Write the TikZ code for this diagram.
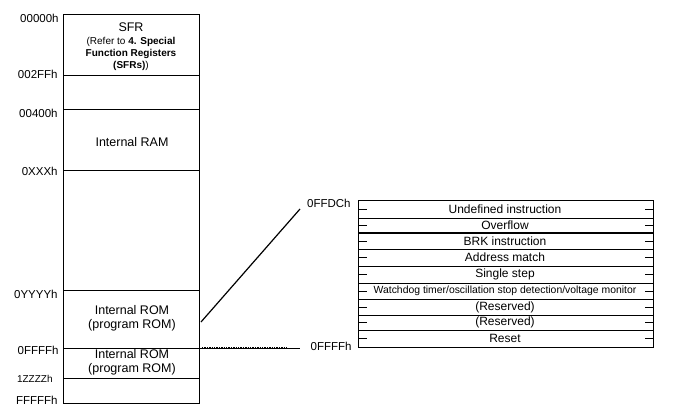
\documentclass[tikz,border=0pt]{standalone}
\usepackage{fontspec}
\setmainfont{Liberation Sans}
\usetikzlibrary{positioning, calc}

\begin{document}
\begin{tikzpicture}[x=1pt, y=-1pt,
    line width=0.8pt,
    addr/.style={anchor=east, inner sep=0pt, font=\fontsize{11.5}{13}\selectfont},
    area/.style={align=center, inner sep=0pt, font=\fontsize{12.5}{14}\selectfont},
    vec/.style={inner sep=0pt, font=\fontsize{12}{13}\selectfont},
    tabtick/.style={line width=0.6pt},
]
    \useasboundingbox (0,0) rectangle (693,415);

    % memory map
    \coordinate (mapNW) at (63,14);
    \coordinate (mapSE) at (199,403);
    \draw (mapNW) rectangle (mapSE);
    \foreach \y in {75,109,170,290,378}
        \draw (63,\y) -- (199,\y);

    \node[addr] (a0) at (59,18) {00000h};
    \node[addr] (a1) at (58,74) {002FFh};
    \node[addr] (a2) at (58,113) {00400h};
    \node[addr] (a3) at (58,171) {0XXXh};
    \node[addr] (a4) at (58,294) {0YYYYh};
    \node[addr] (a5) at (59,350) {0FFFFh};
    \node[addr, font=\fontsize{10}{12}\selectfont] (a6) at (53,379) {1ZZZZh};
    \node[addr] (a7) at (58,400) {FFFFFh};

    \node[area] (sfr) at (131,27) {SFR};
    \node[align=center, inner sep=0pt, font=\fontsize{10}{12}\selectfont] (sfrref) at (131,54)
        {(Refer to \textbf{4. Special}\\ \textbf{Function Registers}\\ \textbf{(SFRs)})};
    \node[area] (ram) at (132,142) {Internal RAM};
    \node[area] (rom1) at (132,318) {Internal ROM\\(program ROM)};
    \node[area] (rom2) at (132,362) {Internal ROM\\(program ROM)};

    % vector table
    \coordinate (vecNW) at (358,200);
    \coordinate (vecSE) at (653,347);
    \draw (vecNW) rectangle (vecSE);
    \foreach \y in {218,249,266,283,299,315,330}
        \draw (358,\y) -- (653,\y);
    \draw[line width=1.8pt] (358,233) -- (653,233);
    \foreach \y in {209,225.5,241,257.5,274.5,291,307,322.5,338.5} {
        \draw[tabtick] (358,\y) -- (367,\y);
        \draw[tabtick] (645,\y) -- (653,\y);
    }

    \node[vec] (v0) at (505,209) {Undefined instruction};
    \node[vec] (v1) at (505,225.5) {Overflow};
    \node[vec] (v2) at (505,241) {BRK instruction};
    \node[vec] (v3) at (505,257.5) {Address match};
    \node[vec] (v4) at (505,274.5) {Single step};
    \node[vec, font=\fontsize{10.4}{11}\selectfont] (v5) at (505,291)
        {Watchdog timer/oscillation stop detection/voltage monitor};
    \node[vec] (v6) at (505,307) {(Reserved)};
    \node[vec] (v7) at (505,322.5) {(Reserved)};
    \node[vec] (v8) at (505,338.5) {Reset};

    \node[addr] (b0) at (351,203) {0FFDCh};
    \node[addr] (b1) at (352,346) {0FFFFh};

    % zoom lines
    \coordinate (romA) at (201,322);
    \coordinate (vecA) at (300,209);
    \coordinate (romB) at (63,348);
    \coordinate (vecB) at (300,348);
    \draw[line width=1.2pt] (romA) -- (vecA);
    \draw (romB) -- (vecB);
    \draw[line width=1.4pt, densely dotted] (202,348) -- (288,348);
\end{tikzpicture}
\end{document}
